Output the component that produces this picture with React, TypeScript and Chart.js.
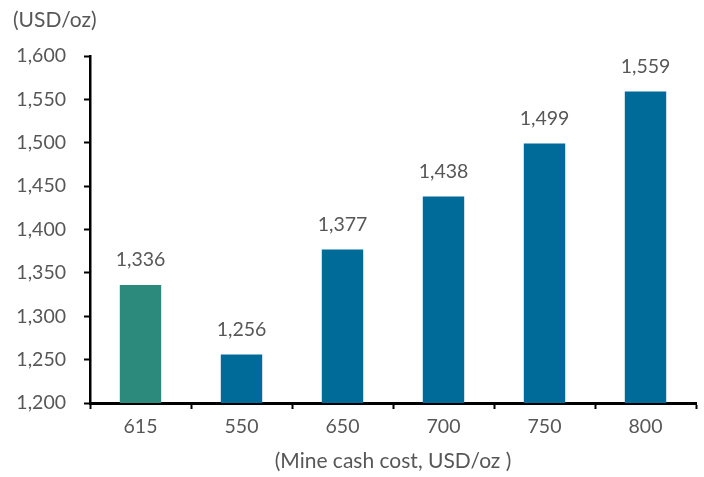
import { useEffect, useRef } from "react";
import { Chart, registerables } from "chart.js";

Chart.register(...registerables);

// Gold price scenario by mine cash cost
const categories = ["615", "550", "650", "700", "750", "800"];
const prices = [1336, 1256, 1377, 1438, 1499, 1559];
const barColors = ["#2B8A7C", "#006A99", "#006A99", "#006A99", "#006A99", "#006A99"];
const yMin = 1200;
const yMax = 1600;
const yStep = 50;
const yTitle = "(USD/oz)";
const xTitle = "(Mine cash cost, USD/oz )";

const FONT = "Lato, 'Open Sans', sans-serif";
const TEXT = "#575757";

const fmt = (v: number) => v.toLocaleString("en-US");

const valueLabels = {
  id: "valueLabels",
  afterDatasetsDraw(chart: any) {
    const ctx = chart.ctx;
    const meta = chart.getDatasetMeta(0);
    ctx.save();
    ctx.font = `19.5px ${FONT}`;
    ctx.fillStyle = TEXT;
    ctx.textAlign = "center";
    ctx.textBaseline = "middle";
    meta.data.forEach((bar: any, i: number) => {
      ctx.fillText(fmt(prices[i]), bar.x, bar.y - 25);
    });
    ctx.restore();
  },
};

const unitTitle = {
  id: "unitTitle",
  afterDraw(chart: any) {
    const ctx = chart.ctx;
    ctx.save();
    ctx.font = `21px ${FONT}`;
    ctx.fillStyle = TEXT;
    ctx.textAlign = "left";
    ctx.textBaseline = "middle";
    ctx.fillText(yTitle, 13, 20);
    ctx.restore();
  },
};

export default function App() {
  const ref = useRef<HTMLCanvasElement>(null);

  useEffect(() => {
    if (!ref.current) return;
    const chart = new Chart(ref.current, {
      type: "bar",
      data: {
        labels: categories,
        datasets: [
          {
            data: prices,
            backgroundColor: barColors,
            borderWidth: 0,
            categoryPercentage: 1,
            barPercentage: 0.41,
          },
        ],
      },
      options: {
        animation: false,
        responsive: false,
        layout: { padding: { left: 0, right: 8, top: 56, bottom: 0 } },
        plugins: {
          legend: { display: false },
          tooltip: { enabled: false },
        },
        scales: {
          x: {
            grid: {
              display: true,
              drawOnChartArea: false,
              drawTicks: true,
              tickLength: 6,
              tickWidth: 2,
              tickColor: "#000",
              offset: true,
            },
            border: { display: true, color: "#000", width: 3 },
            ticks: { color: TEXT, font: { family: FONT, size: 19.5 }, padding: 6 },
            title: {
              display: true,
              text: xTitle,
              color: TEXT,
              font: { family: FONT, size: 21 },
              padding: { top: 8, bottom: 3 },
            },
            afterFit(scale: any) {
              scale.height = 74;
            },
          },
          y: {
            min: yMin,
            max: yMax,
            grid: {
              display: true,
              drawOnChartArea: false,
              drawTicks: true,
              tickLength: 6,
              tickWidth: 2,
              tickColor: "#000",
            },
            border: { display: true, color: "#000", width: 2.5 },
            ticks: {
              stepSize: yStep,
              color: TEXT,
              font: { family: FONT, size: 19.5 },
              padding: 18,
              callback: (v: any) => fmt(Number(v)),
            },
            afterFit(scale: any) {
              scale.width = 90;
            },
          },
        },
      },
      plugins: [valueLabels, unitTitle],
    });
    return () => chart.destroy();
  }, []);

  return (
    <div style={{ position: "absolute", left: 0, top: 0, width: 704, height: 477, background: "#fff" }}>
      <canvas ref={ref} width={704} height={477} style={{ width: 704, height: 477 }} />
    </div>
  );
}
